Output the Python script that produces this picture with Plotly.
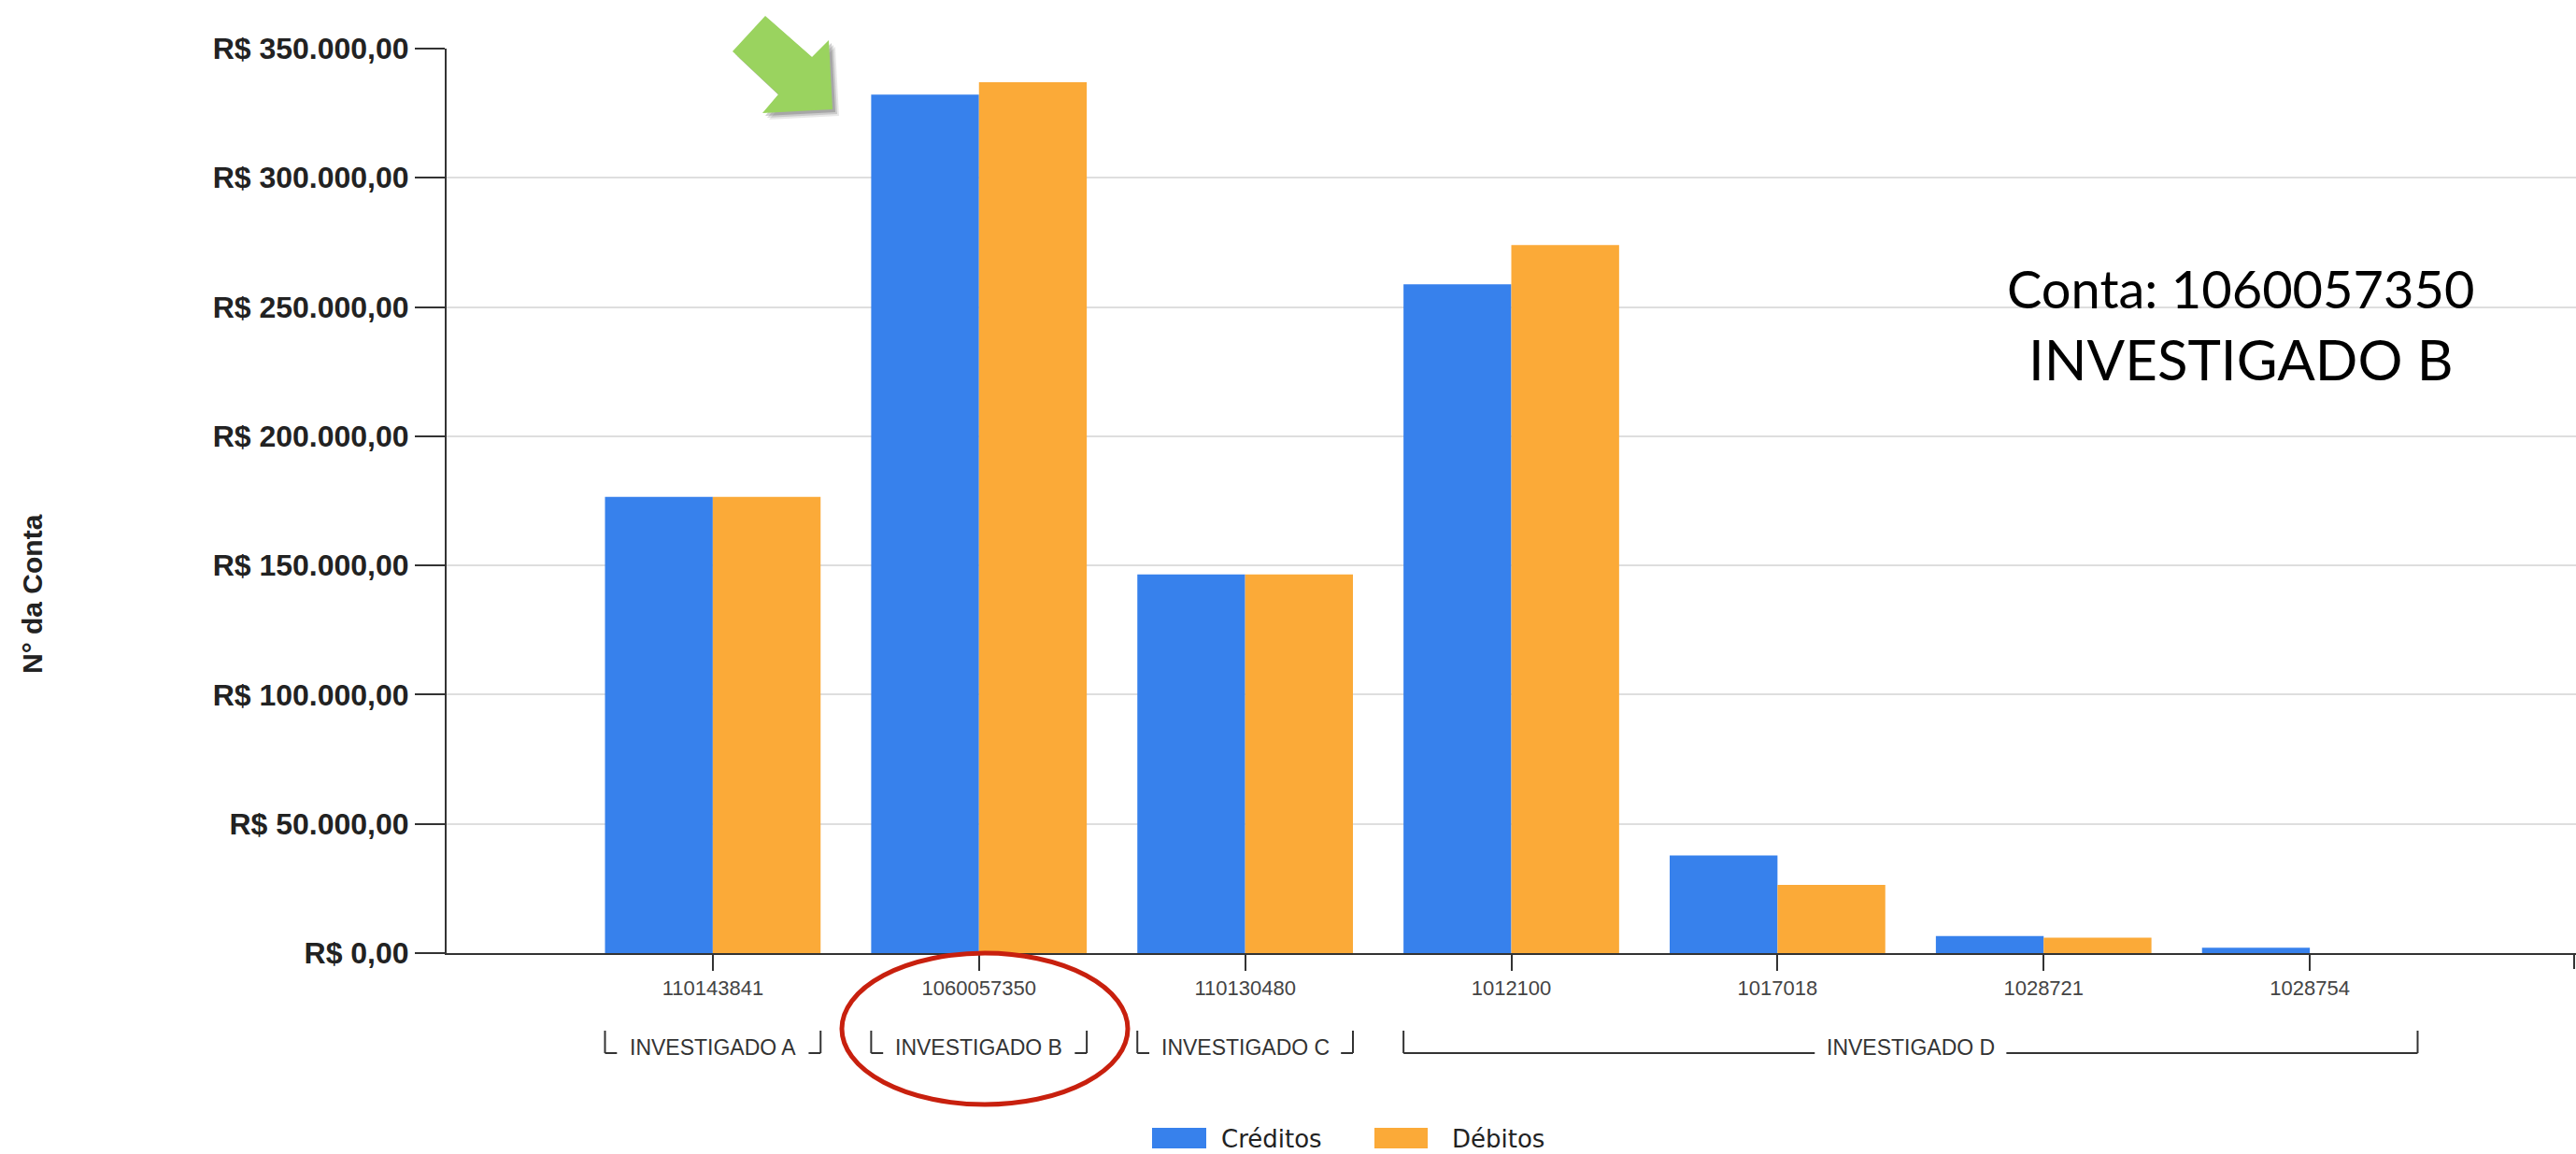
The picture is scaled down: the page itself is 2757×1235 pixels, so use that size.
import plotly.graph_objects as go

# ---------------- data ----------------
contas = ["110143841", "1060057350", "110130480", "1012100", "1017018", "1028721", "1028754"]
creditos = [176500, 332200, 146500, 258800, 37800, 6600, 2100]
debitos = [176500, 337000, 146500, 274000, 26400, 6000, 0]

investigados = ["INVESTIGADO A", "INVESTIGADO B", "INVESTIGADO C", "INVESTIGADO D"]
grupo_inicio = [0, 1, 2, 3]   # index of first account of each investigated person
grupo_fim = [0, 1, 2, 6]      # index of last account

y_ticks = [0, 50000, 100000, 150000, 200000, 250000, 300000, 350000]
y_ticktext = ["R$ " + f"{v:,.2f}".replace(",", "X").replace(".", ",").replace("X", ".") for v in y_ticks]

destaque_linha1 = "Conta: 1060057350"
destaque_linha2 = "INVESTIGADO B"

series_nomes = ["Créditos", "Débitos"]
series_cores = ["#3781EC", "#FBAA38"]

# ---------------- layout helpers (pixel -> paper) ----------------
W, H = 2757, 1235
L, R, T, B = 478, 2757, 52, 1020


def px(x):
    return (x - L) / (R - L)


def py(y):
    return (B - y) / (B - T)


BARGAP = 0.19
half_pair = (1 - BARGAP) / 2

fig = go.Figure()
fig.add_trace(go.Bar(x=contas, y=creditos, name=series_nomes[0],
                     marker=dict(color=series_cores[0], line=dict(width=0))))
fig.add_trace(go.Bar(x=contas, y=debitos, name=series_nomes[1],
                     marker=dict(color=series_cores[1], line=dict(width=0))))

shapes = []
annotations = []

# group brackets under the category labels
br_top, br_bot, txt_y = 1103, 1127, 1121
gap = 0.36
for nome, i0, i1 in zip(investigados, grupo_inicio, grupo_fim):
    xa = i0 - half_pair
    xb = i1 + half_pair
    xc = (xa + xb) / 2
    line = dict(color="#333333", width=2)
    shapes += [
        dict(type="line", xref="x", yref="paper", x0=xa, x1=xa, y0=py(br_top), y1=py(br_bot), line=line),
        dict(type="line", xref="x", yref="paper", x0=xb, x1=xb, y0=py(br_top), y1=py(br_bot), line=line),
        dict(type="line", xref="x", yref="paper", x0=xa, x1=xc - gap, y0=py(br_bot), y1=py(br_bot), line=line),
        dict(type="line", xref="x", yref="paper", x0=xc + gap, x1=xb, y0=py(br_bot), y1=py(br_bot), line=line),
    ]
    annotations.append(dict(text=nome, xref="x", yref="paper", x=xc, y=py(txt_y),
                            xanchor="center", yanchor="middle", showarrow=False,
                            font=dict(family="Liberation Sans, Arial", size=23, color="#333333")))

# final tick at the right end of the x axis
shapes.append(dict(type="line", xref="paper", yref="paper", x0=px(2755), x1=px(2755),
                   y0=py(1020), y1=py(1037), line=dict(color="#333333", width=2)))

# red ellipse highlighting investigated B
shapes.append(dict(type="circle", xref="paper", yref="paper",
                   x0=px(901), x1=px(1207), y0=py(1182), y1=py(1020),
                   line=dict(color="#C8200E", width=5)))

# green arrow (with soft shadow)
arrow_pts = [(784, 55), (819, 17), (869, 61), (887, 43), (891, 117), (816, 121), (833, 101)]


def path_from(pts, dx=0, dy=0):
    return "M " + " L ".join(f"{px(x + dx):.5f},{py(y + dy):.5f}" for x, y in pts) + " Z"


for off, op in [(7, 0.12), (5, 0.18), (3, 0.25)]:
    shapes.append(dict(type="path", xref="paper", yref="paper", path=path_from(arrow_pts, off, off),
                       fillcolor="#404040", opacity=op, line=dict(width=0)))
shapes.append(dict(type="path", xref="paper", yref="paper", path=path_from(arrow_pts),
                   fillcolor="#9AD35F", line=dict(width=0)))

# custom legend
leg = [(1233, 1291, 1305), (1471, 1528, 1552)]
for (x0, x1, xt), nome, cor in zip(leg, series_nomes, series_cores):
    shapes.append(dict(type="rect", xref="paper", yref="paper", x0=px(x0), x1=px(x1),
                       y0=py(1229), y1=py(1207), fillcolor=cor, line=dict(width=0)))
    annotations.append(dict(text=nome, xref="paper", yref="paper", x=px(xt), y=py(1219),
                            xanchor="left", yanchor="middle", showarrow=False,
                            font=dict(family="DejaVu Sans", size=26, color="#222222")))

# highlight text
annotations.append(dict(text=destaque_linha1, xref="paper", yref="paper", x=px(2398), y=py(308),
                        xanchor="center", yanchor="middle", showarrow=False,
                        font=dict(family="Lato", size=56, color="#000000")))
annotations.append(dict(text=destaque_linha2, xref="paper", yref="paper", x=px(2398), y=py(384),
                        xanchor="center", yanchor="middle", showarrow=False,
                        font=dict(family="Lato", size=60, color="#000000")))

# y axis title
annotations.append(dict(text="<b>N° da Conta</b>", xref="paper", yref="paper", x=px(34), y=py(636),
                        xanchor="center", yanchor="middle", textangle=-90, showarrow=False,
                        font=dict(family="Liberation Sans, Arial", size=30, color="#222222")))

fig.update_layout(
    width=W, height=H,
    margin=dict(l=L, r=W - R, t=T, b=H - B, pad=0),
    plot_bgcolor="white", paper_bgcolor="white",
    barmode="group", bargap=BARGAP, bargroupgap=0,
    showlegend=False,
    shapes=shapes,
    annotations=annotations,
    xaxis=dict(type="category", categoryorder="array", categoryarray=contas,
               range=[-1, len(contas)], showline=True, linecolor="#333333", linewidth=2,
               ticks="outside", ticklen=17, tickwidth=2, tickcolor="#333333",
               tickfont=dict(family="Liberation Sans, Arial", size=22, color="#444444"),
               showgrid=False, zeroline=False),
    yaxis=dict(range=[0, 350000], tickmode="array", tickvals=y_ticks, ticktext=y_ticktext,
               showline=True, linecolor="#333333", linewidth=2,
               ticks="outside", ticklen=32, tickwidth=2, tickcolor="#333333",
               tickfont=dict(family="Liberation Sans, Arial", size=32, color="#222222", weight="bold"),
               showgrid=True, gridcolor="#dedede", gridwidth=2, zeroline=False),
)

fig.write_html("out.html", config={"displayModeBar": False},
               post_script="document.body.style.margin='0px';")
